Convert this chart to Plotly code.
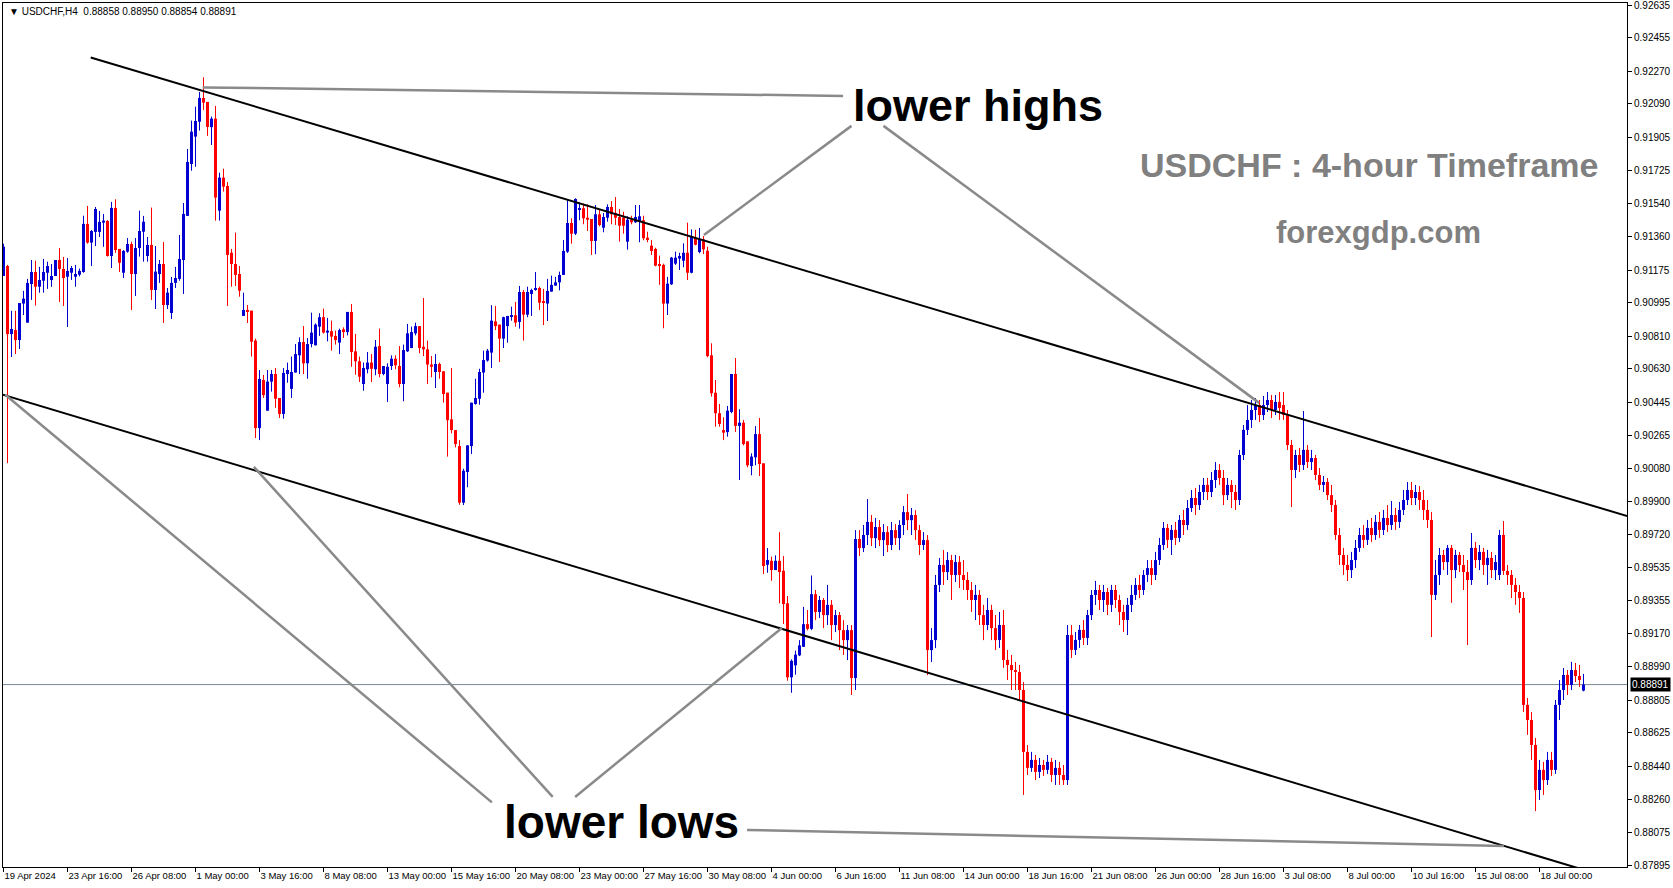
import plotly.graph_objects as go

# ---------------- data (USDCHF H4) ----------------
opens = [
    0.91142, 0.91197, 0.90822, 0.90844, 0.90789, 0.90990, 0.90885, 0.91098, 0.91164, 0.91083,
    0.91116, 0.91160, 0.91120, 0.91142, 0.91230, 0.91181, 0.91138, 0.91160, 0.91138, 0.91149,
    0.91164, 0.91429, 0.91326, 0.91385, 0.91385, 0.91436, 0.91445, 0.91252, 0.91517, 0.91291,
    0.91160, 0.91276, 0.91318, 0.91153, 0.91296, 0.91386, 0.91252, 0.91313, 0.91065, 0.91153,
    0.91208, 0.90982, 0.90938, 0.91104, 0.91126, 0.91230, 0.91473, 0.91759, 0.91910, 0.91992,
    0.92123, 0.92101, 0.91962, 0.92009, 0.91502, 0.91684, 0.91638, 0.91270, 0.91208, 0.91153,
    0.90922, 0.90955, 0.90951, 0.90786, 0.90304, 0.90569, 0.90400, 0.90560, 0.90602, 0.90470,
    0.90382, 0.90602, 0.90520, 0.90610, 0.90705, 0.90778, 0.90661, 0.90767, 0.90760, 0.90863,
    0.90915, 0.90830, 0.90838, 0.90812, 0.90775, 0.90848, 0.90833, 0.90944, 0.90727, 0.90672,
    0.90547, 0.90628, 0.90665, 0.90628, 0.90756, 0.90602, 0.90547, 0.90646, 0.90686, 0.90646,
    0.90547, 0.90727, 0.90745, 0.90826, 0.90866, 0.90752, 0.90738, 0.90654, 0.90613, 0.90657,
    0.90617, 0.90499, 0.90352, 0.90293, 0.90205, 0.89893, 0.90062, 0.90205, 0.90437, 0.90466,
    0.90610, 0.90676, 0.90720, 0.90892, 0.90874, 0.90797, 0.90866, 0.90918, 0.90926, 0.90889,
    0.91054, 0.90929, 0.91043, 0.91065, 0.91076, 0.90999, 0.90990, 0.91056, 0.91089, 0.91107,
    0.91148, 0.91276, 0.91434, 0.91375, 0.91508, 0.91515, 0.91463, 0.91456, 0.91335, 0.91482,
    0.91408, 0.91463, 0.91522, 0.91489, 0.91467, 0.91463, 0.91331, 0.91452, 0.91438, 0.91445,
    0.91449, 0.91353, 0.91309, 0.91291, 0.91203, 0.91203, 0.90990, 0.91096, 0.91210, 0.91238,
    0.91226, 0.91270, 0.91160, 0.91351, 0.91274, 0.91344, 0.91281, 0.90705, 0.90499, 0.90386,
    0.90293, 0.90282, 0.90393, 0.90602, 0.90316, 0.90334, 0.90231, 0.90095, 0.90143, 0.90271,
    0.90110, 0.89551, 0.89573, 0.89522, 0.89573, 0.89518, 0.89339, 0.88931, 0.88997, 0.89052,
    0.89099, 0.89224, 0.89198, 0.89389, 0.89291, 0.89357, 0.89274, 0.89330, 0.89219, 0.89274,
    0.89191, 0.89136, 0.89191, 0.88927, 0.89693, 0.89643, 0.89715, 0.89787, 0.89698, 0.89759,
    0.89687, 0.89731, 0.89660, 0.89742, 0.89698, 0.89770, 0.89841, 0.89797, 0.89825, 0.89742,
    0.89660, 0.89687, 0.89081, 0.89136, 0.89440, 0.89550, 0.89511, 0.89577, 0.89495, 0.89566,
    0.89495, 0.89467, 0.89412, 0.89357, 0.89385, 0.89274, 0.89219, 0.89302, 0.89202, 0.89137,
    0.89219, 0.89027, 0.88999, 0.88971, 0.88960, 0.88861, 0.88520, 0.88432, 0.88476, 0.88410,
    0.88448, 0.88421, 0.88465, 0.88393, 0.88432, 0.88393, 0.88365, 0.89164, 0.89082, 0.89137,
    0.89192, 0.89148, 0.89274, 0.89385, 0.89412, 0.89357, 0.89401, 0.89330, 0.89412, 0.89357,
    0.89291, 0.89247, 0.89330, 0.89385, 0.89440, 0.89412, 0.89495, 0.89533, 0.89495, 0.89577,
    0.89660, 0.89754, 0.89688, 0.89743, 0.89699, 0.89798, 0.89770, 0.89864, 0.89919, 0.89880,
    0.89952, 0.89991, 0.89952, 0.90018, 0.90073, 0.90029, 0.89935, 0.89991, 0.89952, 0.89908,
    0.90156, 0.90294, 0.90349, 0.90404, 0.90431, 0.90376, 0.90431, 0.90459, 0.90404, 0.90448,
    0.90431, 0.90376, 0.90211, 0.90073, 0.90156, 0.90101, 0.90184, 0.90117, 0.90139, 0.90046,
    0.89991, 0.90007, 0.89935, 0.89880, 0.89715, 0.89605, 0.89550, 0.89522, 0.89577, 0.89644,
    0.89715, 0.89688, 0.89754, 0.89715, 0.89787, 0.89743, 0.89809, 0.89770, 0.89825, 0.89787,
    0.89853, 0.89908, 0.89963, 0.89919, 0.89952, 0.89908, 0.89853, 0.89798, 0.89385, 0.89495,
    0.89605, 0.89566, 0.89644, 0.89522, 0.89605, 0.89550, 0.89511, 0.89467, 0.89644, 0.89577,
    0.89622, 0.89550, 0.89589, 0.89522, 0.89495, 0.89715, 0.89517, 0.89495, 0.89440, 0.89401,
    0.89368, 0.88779, 0.88696, 0.88558, 0.88310, 0.88421, 0.88365, 0.88476, 0.88421, 0.88779,
    0.88861, 0.88944, 0.88889, 0.88971, 0.88938, 0.88858,
]

highs = [
    0.91320, 0.91203, 0.90950, 0.90950, 0.90993, 0.91060, 0.91126, 0.91230, 0.91226, 0.91192,
    0.91236, 0.91221, 0.91208, 0.91230, 0.91296, 0.91247, 0.91241, 0.91197, 0.91203, 0.91183,
    0.91474, 0.91528, 0.91395, 0.91522, 0.91500, 0.91484, 0.91450, 0.91550, 0.91565, 0.91291,
    0.91285, 0.91351, 0.91331, 0.91351, 0.91502, 0.91473, 0.91357, 0.91519, 0.91307, 0.91230,
    0.91329, 0.91076, 0.91137, 0.91192, 0.91368, 0.91544, 0.91842, 0.91998, 0.92075, 0.92156,
    0.92237, 0.92101, 0.92020, 0.92079, 0.91711, 0.91733, 0.91660, 0.91291, 0.91381, 0.91197,
    0.91050, 0.90982, 0.90951, 0.90797, 0.90624, 0.90597, 0.90624, 0.90624, 0.90635, 0.90470,
    0.90635, 0.90665, 0.90698, 0.90767, 0.90804, 0.90866, 0.90800, 0.90940, 0.90881, 0.90937,
    0.90962, 0.90911, 0.90896, 0.90841, 0.90852, 0.90859, 0.90944, 0.90988, 0.90823, 0.90698,
    0.90665, 0.90723, 0.90712, 0.90789, 0.90852, 0.90646, 0.90661, 0.90705, 0.90705, 0.90756,
    0.90764, 0.90878, 0.90863, 0.90885, 0.90866, 0.91021, 0.90786, 0.90701, 0.90712, 0.90665,
    0.90617, 0.90499, 0.90635, 0.90293, 0.90238, 0.90080, 0.90209, 0.90444, 0.90576, 0.90631,
    0.90731, 0.90740, 0.90981, 0.90977, 0.90874, 0.90918, 0.90922, 0.90973, 0.90999, 0.91087,
    0.91065, 0.91083, 0.91072, 0.91164, 0.91083, 0.91071, 0.91126, 0.91144, 0.91137, 0.91166,
    0.91340, 0.91563, 0.91460, 0.91570, 0.91548, 0.91541, 0.91537, 0.91456, 0.91533, 0.91511,
    0.91489, 0.91537, 0.91555, 0.91577, 0.91511, 0.91496, 0.91471, 0.91474, 0.91533, 0.91533,
    0.91474, 0.91386, 0.91340, 0.91298, 0.91254, 0.91210, 0.91137, 0.91247, 0.91276, 0.91270,
    0.91322, 0.91436, 0.91399, 0.91396, 0.91407, 0.91362, 0.91303, 0.90771, 0.90569, 0.90437,
    0.90364, 0.90426, 0.90602, 0.90690, 0.90408, 0.90349, 0.90231, 0.90165, 0.90315, 0.90360,
    0.90110, 0.89643, 0.89596, 0.89603, 0.89731, 0.89599, 0.89379, 0.89030, 0.89078, 0.89136,
    0.89319, 0.89302, 0.89492, 0.89412, 0.89379, 0.89368, 0.89440, 0.89357, 0.89302, 0.89291,
    0.89246, 0.89219, 0.89219, 0.89742, 0.89742, 0.89770, 0.89913, 0.89825, 0.89809, 0.89797,
    0.89775, 0.89764, 0.89787, 0.89775, 0.89797, 0.89875, 0.89941, 0.89864, 0.89852, 0.89770,
    0.89731, 0.89715, 0.89202, 0.89495, 0.89588, 0.89632, 0.89621, 0.89605, 0.89605, 0.89599,
    0.89577, 0.89511, 0.89456, 0.89440, 0.89412, 0.89330, 0.89368, 0.89330, 0.89274, 0.89291,
    0.89302, 0.89082, 0.89054, 0.89016, 0.88999, 0.88905, 0.88558, 0.88520, 0.88503, 0.88487,
    0.88476, 0.88503, 0.88487, 0.88476, 0.88465, 0.88448, 0.89219, 0.89219, 0.89181, 0.89219,
    0.89247, 0.89302, 0.89412, 0.89462, 0.89440, 0.89440, 0.89423, 0.89440, 0.89440, 0.89385,
    0.89330, 0.89368, 0.89440, 0.89478, 0.89495, 0.89522, 0.89577, 0.89577, 0.89622, 0.89699,
    0.89787, 0.89776, 0.89770, 0.89787, 0.89825, 0.89853, 0.89908, 0.89963, 0.89974, 0.89991,
    0.90029, 0.90029, 0.90062, 0.90117, 0.90106, 0.90073, 0.90029, 0.90018, 0.89991, 0.90184,
    0.90321, 0.90431, 0.90459, 0.90470, 0.90459, 0.90481, 0.90503, 0.90486, 0.90486, 0.90503,
    0.90503, 0.90404, 0.90239, 0.90184, 0.90195, 0.90398, 0.90211, 0.90184, 0.90156, 0.90084,
    0.90040, 0.90029, 0.89991, 0.89908, 0.89754, 0.89644, 0.89605, 0.89622, 0.89688, 0.89754,
    0.89770, 0.89798, 0.89809, 0.89825, 0.89842, 0.89853, 0.89880, 0.89902, 0.89864, 0.89897,
    0.89963, 0.90007, 0.90007, 0.89991, 0.89985, 0.89963, 0.89908, 0.89842, 0.89577, 0.89644,
    0.89633, 0.89660, 0.89660, 0.89633, 0.89622, 0.89605, 0.89577, 0.89726, 0.89677, 0.89660,
    0.89644, 0.89633, 0.89622, 0.89605, 0.89743, 0.89792, 0.89550, 0.89522, 0.89478, 0.89440,
    0.89401, 0.88817, 0.88740, 0.88597, 0.88476, 0.88465, 0.88520, 0.88520, 0.88806, 0.88916,
    0.88982, 0.88971, 0.89016, 0.89010, 0.88999, 0.88950,
]

lows = [
    0.91142, 0.90111, 0.90696, 0.90712, 0.90740, 0.90927, 0.90885, 0.91010, 0.90979, 0.91050,
    0.91050, 0.91071, 0.91082, 0.91142, 0.90999, 0.90977, 0.90861, 0.91120, 0.91083, 0.91140,
    0.91160, 0.91320, 0.91197, 0.91307, 0.91357, 0.91303, 0.91249, 0.91186, 0.91269, 0.91164,
    0.91131, 0.91270, 0.90955, 0.91032, 0.91249, 0.91221, 0.91221, 0.91010, 0.90960, 0.91104,
    0.90883, 0.90960, 0.90905, 0.91076, 0.91116, 0.91043, 0.91473, 0.91722, 0.91744, 0.91943,
    0.92057, 0.91914, 0.91864, 0.91447, 0.91447, 0.91607, 0.90977, 0.91083, 0.91087, 0.91028,
    0.90922, 0.90883, 0.90698, 0.90249, 0.90238, 0.90470, 0.90400, 0.90505, 0.90416, 0.90360,
    0.90356, 0.90554, 0.90470, 0.90610, 0.90602, 0.90602, 0.90576, 0.90749, 0.90760, 0.90812,
    0.90825, 0.90782, 0.90731, 0.90764, 0.90712, 0.90800, 0.90815, 0.90642, 0.90598, 0.90558,
    0.90510, 0.90606, 0.90558, 0.90595, 0.90584, 0.90595, 0.90448, 0.90624, 0.90628, 0.90529,
    0.90452, 0.90723, 0.90745, 0.90815, 0.90716, 0.90701, 0.90547, 0.90584, 0.90525, 0.90576,
    0.90444, 0.90147, 0.90275, 0.90198, 0.89882, 0.89880, 0.89978, 0.90161, 0.90433, 0.90433,
    0.90499, 0.90670, 0.90635, 0.90844, 0.90668, 0.90745, 0.90775, 0.90896, 0.90863, 0.90852,
    0.90786, 0.90915, 0.90922, 0.91061, 0.90955, 0.90872, 0.90894, 0.91056, 0.91089, 0.91063,
    0.91148, 0.91269, 0.91320, 0.91368, 0.91449, 0.91427, 0.91390, 0.91258, 0.91262, 0.91416,
    0.91383, 0.91441, 0.91427, 0.91423, 0.91331, 0.91375, 0.91287, 0.91427, 0.91434, 0.91328,
    0.91339, 0.91328, 0.91258, 0.91195, 0.91093, 0.90854, 0.90927, 0.91093, 0.91203, 0.91175,
    0.91190, 0.91120, 0.91157, 0.91311, 0.91267, 0.91263, 0.90694, 0.90477, 0.90312, 0.90312,
    0.90238, 0.90257, 0.90386, 0.90283, 0.90018, 0.90209, 0.90088, 0.90044, 0.90099, 0.90040,
    0.89500, 0.89507, 0.89463, 0.89522, 0.89339, 0.89225, 0.88912, 0.88846, 0.88945, 0.89048,
    0.89099, 0.89190, 0.89191, 0.89246, 0.89258, 0.89202, 0.89219, 0.89136, 0.89180, 0.89081,
    0.89054, 0.89026, 0.88834, 0.88861, 0.89599, 0.89621, 0.89660, 0.89654, 0.89643, 0.89654,
    0.89599, 0.89621, 0.89632, 0.89660, 0.89632, 0.89715, 0.89742, 0.89715, 0.89687, 0.89605,
    0.89632, 0.88943, 0.89015, 0.89092, 0.89401, 0.89440, 0.89467, 0.89357, 0.89456, 0.89423,
    0.89412, 0.89357, 0.89291, 0.89246, 0.89219, 0.89136, 0.89191, 0.89136, 0.89081, 0.89093,
    0.88983, 0.88916, 0.88861, 0.88861, 0.88806, 0.88283, 0.88393, 0.88410, 0.88365, 0.88376,
    0.88388, 0.88399, 0.88354, 0.88338, 0.88338, 0.88338, 0.88338, 0.89038, 0.89054, 0.89093,
    0.89109, 0.89109, 0.89247, 0.89330, 0.89302, 0.89291, 0.89274, 0.89291, 0.89313, 0.89219,
    0.89181, 0.89164, 0.89291, 0.89357, 0.89368, 0.89385, 0.89456, 0.89440, 0.89467, 0.89550,
    0.89633, 0.89644, 0.89605, 0.89660, 0.89677, 0.89715, 0.89743, 0.89842, 0.89825, 0.89853,
    0.89908, 0.89908, 0.89924, 0.89974, 0.89991, 0.89880, 0.89908, 0.89864, 0.89853, 0.89880,
    0.90128, 0.90266, 0.90305, 0.90349, 0.90338, 0.90349, 0.90393, 0.90360, 0.90376, 0.90349,
    0.90349, 0.90184, 0.89869, 0.90029, 0.90062, 0.90073, 0.90084, 0.90073, 0.90018, 0.89963,
    0.89952, 0.89908, 0.89842, 0.89688, 0.89550, 0.89495, 0.89462, 0.89478, 0.89533, 0.89622,
    0.89644, 0.89660, 0.89677, 0.89688, 0.89699, 0.89715, 0.89732, 0.89743, 0.89743, 0.89754,
    0.89825, 0.89880, 0.89880, 0.89880, 0.89853, 0.89798, 0.89754, 0.89153, 0.89357, 0.89440,
    0.89522, 0.89495, 0.89341, 0.89478, 0.89511, 0.89412, 0.89109, 0.89440, 0.89533, 0.89522,
    0.89495, 0.89440, 0.89478, 0.89467, 0.89467, 0.89495, 0.89440, 0.89368, 0.89330, 0.89286,
    0.88740, 0.88614, 0.88476, 0.88194, 0.88255, 0.88283, 0.88338, 0.88388, 0.88399, 0.88696,
    0.88806, 0.88834, 0.88861, 0.88905, 0.88878, 0.88854,
]

closes = [
    0.91303, 0.90822, 0.90850, 0.90789, 0.90993, 0.91017, 0.91104, 0.91164, 0.91083, 0.91120,
    0.91164, 0.91197, 0.91142, 0.91230, 0.91181, 0.91131, 0.91170, 0.91186, 0.91153, 0.91170,
    0.91429, 0.91326, 0.91390, 0.91511, 0.91440, 0.91447, 0.91252, 0.91517, 0.91285, 0.91215,
    0.91280, 0.91318, 0.91153, 0.91296, 0.91390, 0.91441, 0.91313, 0.91065, 0.91166, 0.91208,
    0.90982, 0.91050, 0.91104, 0.91131, 0.91236, 0.91484, 0.91770, 0.91937, 0.91996, 0.92123,
    0.92097, 0.91963, 0.92009, 0.91574, 0.91684, 0.91634, 0.91258, 0.91208, 0.91148, 0.91061,
    0.90955, 0.90945, 0.90780, 0.90304, 0.90575, 0.90486, 0.90560, 0.90602, 0.90466, 0.90382,
    0.90608, 0.90624, 0.90613, 0.90712, 0.90778, 0.90661, 0.90767, 0.90830, 0.90874, 0.90915,
    0.90830, 0.90841, 0.90808, 0.90789, 0.90844, 0.90833, 0.90944, 0.90723, 0.90672, 0.90587,
    0.90635, 0.90665, 0.90631, 0.90752, 0.90602, 0.90646, 0.90642, 0.90686, 0.90650, 0.90547,
    0.90734, 0.90826, 0.90833, 0.90866, 0.90745, 0.90738, 0.90654, 0.90642, 0.90657, 0.90613,
    0.90492, 0.90348, 0.90293, 0.90216, 0.89893, 0.90069, 0.90209, 0.90444, 0.90470, 0.90613,
    0.90679, 0.90731, 0.90896, 0.90866, 0.90797, 0.90915, 0.90922, 0.90926, 0.90885, 0.91054,
    0.90929, 0.91054, 0.91065, 0.91076, 0.90995, 0.90995, 0.91060, 0.91093, 0.91107, 0.91148,
    0.91280, 0.91434, 0.91375, 0.91566, 0.91511, 0.91460, 0.91452, 0.91335, 0.91482, 0.91423,
    0.91467, 0.91522, 0.91482, 0.91463, 0.91419, 0.91419, 0.91452, 0.91438, 0.91467, 0.91471,
    0.91350, 0.91342, 0.91280, 0.91199, 0.91199, 0.90990, 0.91100, 0.91243, 0.91243, 0.91252,
    0.91270, 0.91160, 0.91359, 0.91314, 0.91344, 0.91289, 0.90701, 0.90496, 0.90386, 0.90327,
    0.90279, 0.90400, 0.90602, 0.90316, 0.90334, 0.90216, 0.90099, 0.90147, 0.90271, 0.90106,
    0.89544, 0.89577, 0.89522, 0.89573, 0.89511, 0.89335, 0.88931, 0.89022, 0.89056, 0.89107,
    0.89224, 0.89198, 0.89389, 0.89291, 0.89357, 0.89274, 0.89330, 0.89219, 0.89274, 0.89191,
    0.89136, 0.89191, 0.88927, 0.89693, 0.89643, 0.89715, 0.89787, 0.89698, 0.89759, 0.89687,
    0.89731, 0.89660, 0.89742, 0.89698, 0.89770, 0.89841, 0.89797, 0.89825, 0.89742, 0.89660,
    0.89687, 0.89081, 0.89136, 0.89440, 0.89550, 0.89511, 0.89577, 0.89495, 0.89566, 0.89495,
    0.89467, 0.89412, 0.89357, 0.89385, 0.89274, 0.89219, 0.89302, 0.89202, 0.89136, 0.89219,
    0.89027, 0.88999, 0.88971, 0.88960, 0.88861, 0.88520, 0.88432, 0.88476, 0.88410, 0.88448,
    0.88421, 0.88465, 0.88393, 0.88432, 0.88393, 0.88365, 0.89164, 0.89082, 0.89137, 0.89192,
    0.89148, 0.89274, 0.89385, 0.89412, 0.89357, 0.89401, 0.89330, 0.89412, 0.89357, 0.89291,
    0.89247, 0.89330, 0.89385, 0.89440, 0.89412, 0.89495, 0.89533, 0.89495, 0.89577, 0.89660,
    0.89754, 0.89688, 0.89743, 0.89699, 0.89798, 0.89770, 0.89864, 0.89919, 0.89880, 0.89952,
    0.89991, 0.89952, 0.90018, 0.90073, 0.90029, 0.89935, 0.89991, 0.89952, 0.89908, 0.90156,
    0.90294, 0.90349, 0.90404, 0.90431, 0.90376, 0.90431, 0.90459, 0.90404, 0.90448, 0.90415,
    0.90376, 0.90211, 0.90073, 0.90156, 0.90101, 0.90184, 0.90117, 0.90139, 0.90046, 0.89991,
    0.90007, 0.89935, 0.89880, 0.89715, 0.89605, 0.89550, 0.89522, 0.89577, 0.89644, 0.89715,
    0.89688, 0.89754, 0.89715, 0.89787, 0.89743, 0.89809, 0.89770, 0.89825, 0.89787, 0.89853,
    0.89908, 0.89963, 0.89919, 0.89952, 0.89908, 0.89853, 0.89798, 0.89385, 0.89495, 0.89605,
    0.89566, 0.89644, 0.89522, 0.89605, 0.89550, 0.89511, 0.89467, 0.89644, 0.89577, 0.89622,
    0.89550, 0.89589, 0.89522, 0.89566, 0.89715, 0.89517, 0.89495, 0.89440, 0.89401, 0.89368,
    0.88779, 0.88696, 0.88558, 0.88310, 0.88421, 0.88365, 0.88476, 0.88421, 0.88779, 0.88861,
    0.88944, 0.88889, 0.88971, 0.88938, 0.88916, 0.88891,
]

# time-axis labels (one every 16 four-hour bars)
x_tick_bars = [0, 16, 32, 48, 64, 80, 96, 112, 128, 144, 160, 176, 192,
               208, 224, 240, 256, 272, 288, 304, 320, 336, 352, 368, 384]
x_tick_labels = ["19 Apr 2024", "23 Apr 16:00", "26 Apr 08:00", "1 May 00:00", "3 May 16:00",
                 "8 May 08:00", "13 May 00:00", "15 May 16:00", "20 May 08:00", "23 May 00:00",
                 "27 May 16:00", "30 May 08:00", "4 Jun 00:00", "6 Jun 16:00", "11 Jun 08:00",
                 "14 Jun 00:00", "18 Jun 16:00", "21 Jun 08:00", "26 Jun 00:00", "28 Jun 16:00",
                 "3 Jul 08:00", "8 Jul 00:00", "10 Jul 16:00", "15 Jul 08:00", "18 Jul 00:00"]

y_tick_values = [0.92635, 0.92455, 0.92270, 0.92090, 0.91905, 0.91725, 0.91540, 0.91360,
                 0.91175, 0.90995, 0.90810, 0.90630, 0.90445, 0.90265, 0.90080, 0.89900,
                 0.89720, 0.89535, 0.89355, 0.89170, 0.88990, 0.88805, 0.88625, 0.88440,
                 0.88260, 0.88075, 0.87895]

last_price = 0.88891
header_text = "▼ USDCHF,H4  0.88858 0.88950 0.88854 0.88891"

# trend lines (bar index, price)
upper_channel = [(21.8, 0.92346), (406.0, 0.89819)]
lower_channel = [(-0.2, 0.90488), (406.0, 0.87798)]
pointer_lines = [
    [(49.8, 0.92181), (209.9, 0.92134)],
    [(212.0, 0.91969), (175.1, 0.91368)],
    [(220.0, 0.91969), (313.9, 0.90443)],
    [(0.45, 0.90488), (122.1, 0.88242)],
    [(62.6, 0.90090), (137.3, 0.88272)],
    [(142.9, 0.88272), (194.6, 0.89203)],
    [(185.9, 0.88090), (375.1, 0.88002)],
]

# ---------------- figure ----------------
BULL = "#0000D0"
BEAR = "#FF0000"
FONT = "Liberation Sans, Arial, sans-serif"

fig = go.Figure()

n = len(opens)
for is_bull, col in ((True, BULL), (False, BEAR)):
    xs, base, hgt = [], [], []
    wx, wy = [], []
    for i in range(n):
        o, h, l, c = opens[i], highs[i], lows[i], closes[i]
        if (c >= o) != is_bull:
            continue
        xs.append(i)
        base.append(min(o, c))
        hgt.append(max(abs(c - o), 0.00005))
        wx += [i, i, None]
        wy += [l, h, None]
    fig.add_trace(go.Scatter(x=wx, y=wy, mode="lines",
                             line=dict(color=col, width=1), hoverinfo="skip"))
    fig.add_trace(go.Bar(x=xs, y=hgt, base=base, width=0.75,
                         marker=dict(color=col, line=dict(width=0)), hoverinfo="skip"))

shapes = []
shapes.append(dict(type="line", xref="paper", yref="y", x0=0, x1=1,
                   y0=last_price, y1=last_price, layer="below",
                   line=dict(color="#778899", width=1)))
for (x0, y0), (x1, y1) in (upper_channel, lower_channel):
    shapes.append(dict(type="line", xref="x", yref="y", x0=x0, y0=y0, x1=x1, y1=y1,
                       line=dict(color="black", width=2)))
for (x0, y0), (x1, y1) in pointer_lines:
    shapes.append(dict(type="line", xref="x", yref="y", x0=x0, y0=y0, x1=x1, y1=y1,
                       line=dict(color="#8a8a8a", width=2.5)))

annotations = [
    dict(x=243.5, y=0.92081, xref="x", yref="y", text="<b>lower highs</b>", showarrow=False,
         font=dict(family=FONT, size=45, color="black")),
    dict(x=154.4, y=0.88136, xref="x", yref="y", text="<b>lower lows</b>", showarrow=False,
         font=dict(family=FONT, size=46, color="black")),
    dict(x=341.4, y=0.91752, xref="x", yref="y", text="<b>USDCHF : 4-hour Timeframe</b>",
         showarrow=False, font=dict(family=FONT, size=34, color="#808080")),
    dict(x=343.75, y=0.91381, xref="x", yref="y", text="<b>forexgdp.com</b>", showarrow=False,
         font=dict(family=FONT, size=31, color="#808080")),
    dict(x=0, y=1, xref="paper", yref="paper", xanchor="left", yanchor="top",
         xshift=4, yshift=-1, text=header_text, showarrow=False,
         font=dict(family=FONT, size=10, color="black")),
    dict(x=1, y=last_price, xref="paper", yref="y", xanchor="left", yanchor="middle",
         xshift=3, text="0.88891", showarrow=False, bgcolor="black", borderpad=1,
         font=dict(family=FONT, size=10, color="white")),
]

fig.update_layout(
    template="none",
    width=1673, height=888,
    margin=dict(l=3, r=46, t=3, b=21, pad=0),
    paper_bgcolor="white", plot_bgcolor="white",
    showlegend=False, barmode="overlay",
    shapes=shapes, annotations=annotations,
    font=dict(family=FONT, size=10, color="black"),
)
fig.update_xaxes(
    range=[-0.125, 405.875], showgrid=False, zeroline=False,
    showline=True, linecolor="black", linewidth=1, mirror=True,
    tickmode="array", tickvals=x_tick_bars, ticktext=x_tick_labels,
    ticks="outside", ticklen=4, tickcolor="black", tickwidth=1,
    ticklabelposition="outside right", tickangle=0, automargin=False,
    ticklabeloverflow="allow",
    tickfont=dict(family=FONT, size=9.5, color="black"),
)
fig.update_yaxes(
    range=[0.87886, 0.92646], side="right", showgrid=False, zeroline=False,
    showline=True, linecolor="black", linewidth=1, mirror=True,
    tickmode="array", tickvals=y_tick_values,
    ticktext=["%.5f" % v for v in y_tick_values],
    ticks="outside", ticklen=4, tickcolor="black", tickwidth=1, automargin=False,
    ticklabeloverflow="allow",
    tickfont=dict(family=FONT, size=10, color="black"),
)

fig.write_html("out.html", config={"displayModeBar": False},
               post_script="document.body.style.margin='0px';document.body.style.overflow='hidden';")
